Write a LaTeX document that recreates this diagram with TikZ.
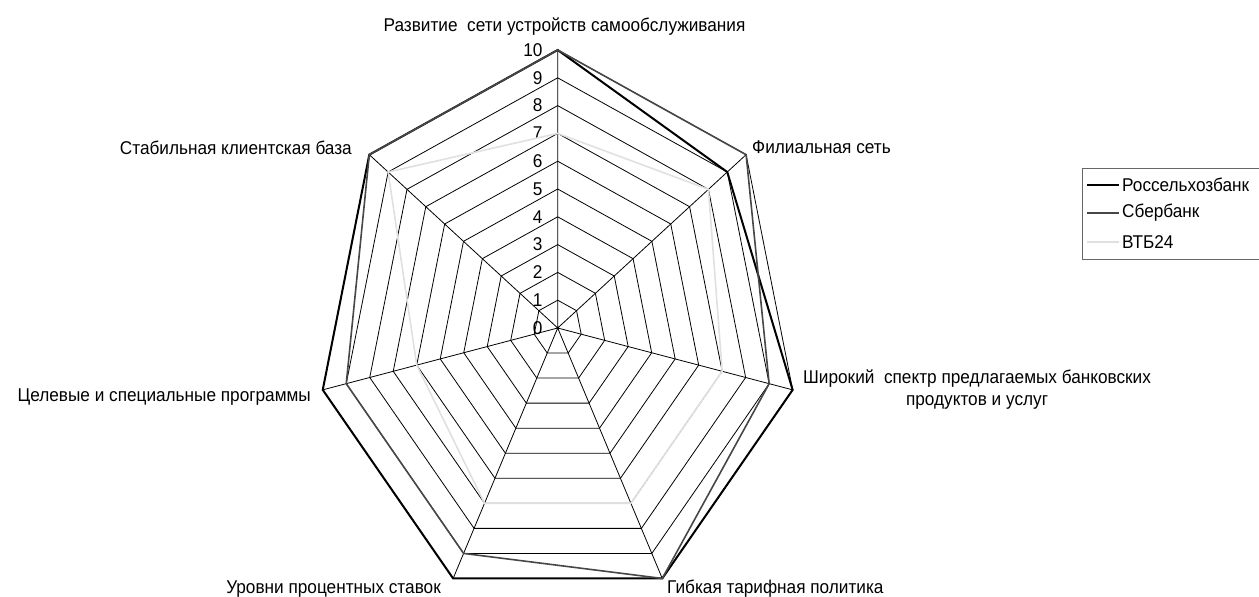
\documentclass[tikz,border=0pt]{standalone}
\usepackage{fontspec}
\setmainfont{Liberation Sans}[FakeStretch=0.93]
\newcommand{\chartfont}{\fontsize{18.5}{22}\selectfont}

\begin{document}
\begin{tikzpicture}[
    x=1pt, y=-1pt,
    grid/.style={draw=black, line width=0.8pt},
    lbl/.style={inner sep=0pt, font=\chartfont},
    tick/.style={inner sep=0pt, anchor=east, font=\chartfont},
    rshb/.style={draw=black, line width=2pt},
    sber/.style={draw=black!72, line width=1.6pt},
    vtb/.style={draw=black!12, line width=1.6pt}
]
\useasboundingbox (0,0) rectangle (1259,597);

\begin{scope}[shift={(557.7,328)}, x=24.1pt, y=27.8pt]
% rings
\draw[grid] (90:1) -- (38.571:1) -- (-12.857:1) -- (-64.286:1) -- (-115.714:1) -- (-167.143:1) -- (141.429:1) -- cycle;
\draw[grid] (90:2) -- (38.571:2) -- (-12.857:2) -- (-64.286:2) -- (-115.714:2) -- (-167.143:2) -- (141.429:2) -- cycle;
\draw[grid] (90:3) -- (38.571:3) -- (-12.857:3) -- (-64.286:3) -- (-115.714:3) -- (-167.143:3) -- (141.429:3) -- cycle;
\draw[grid] (90:4) -- (38.571:4) -- (-12.857:4) -- (-64.286:4) -- (-115.714:4) -- (-167.143:4) -- (141.429:4) -- cycle;
\draw[grid] (90:5) -- (38.571:5) -- (-12.857:5) -- (-64.286:5) -- (-115.714:5) -- (-167.143:5) -- (141.429:5) -- cycle;
\draw[grid] (90:6) -- (38.571:6) -- (-12.857:6) -- (-64.286:6) -- (-115.714:6) -- (-167.143:6) -- (141.429:6) -- cycle;
\draw[grid] (90:7) -- (38.571:7) -- (-12.857:7) -- (-64.286:7) -- (-115.714:7) -- (-167.143:7) -- (141.429:7) -- cycle;
\draw[grid] (90:8) -- (38.571:8) -- (-12.857:8) -- (-64.286:8) -- (-115.714:8) -- (-167.143:8) -- (141.429:8) -- cycle;
\draw[grid] (90:9) -- (38.571:9) -- (-12.857:9) -- (-64.286:9) -- (-115.714:9) -- (-167.143:9) -- (141.429:9) -- cycle;
\draw[grid] (90:10) -- (38.571:10) -- (-12.857:10) -- (-64.286:10) -- (-115.714:10) -- (-167.143:10) -- (141.429:10) -- cycle;

% spokes
\coordinate (C) at (0,0);
\draw[grid] (C) -- (90:10) (C) -- (38.571:10) (C) -- (-12.857:10) (C) -- (-64.286:10)
            (C) -- (-115.714:10) (C) -- (-167.143:10) (C) -- (141.429:10);

% scale values
\node[tick] (t0) at (-0.62,0) {0};
\node[tick] (t1) at (-0.62,1) {1};
\node[tick] (t2) at (-0.62,2) {2};
\node[tick] (t3) at (-0.62,3) {3};
\node[tick] (t4) at (-0.62,4) {4};
\node[tick] (t5) at (-0.62,5) {5};
\node[tick] (t6) at (-0.62,6) {6};
\node[tick] (t7) at (-0.62,7) {7};
\node[tick] (t8) at (-0.62,8) {8};
\node[tick] (t9) at (-0.62,9) {9};
\node[tick] (t10) at (-0.62,10) {10};

% series
\draw[rshb] (90:10) -- (38.571:9) -- (-12.857:10) -- (-64.286:10) -- (-115.714:10) -- (-167.143:10) -- (141.429:10) -- cycle;
\draw[sber] (90:10) -- (38.571:10) -- (-12.857:9) -- (-64.286:10) -- (-115.714:9) -- (-167.143:9) -- (141.429:10) -- cycle;
\draw[vtb] (90:7) -- (38.571:8) -- (-12.857:7) -- (-64.286:7) -- (-115.714:7) -- (-167.143:6) -- (141.429:9) -- cycle;
\end{scope}

% axis labels
\node[lbl, anchor=base] (ax1) at (564.5,31) {Развитие\ \ сети устройств самообслуживания};
\node[lbl, anchor=base west] (ax2) at (752,153) {Филиальная сеть};
\node[lbl, anchor=north west, align=center] (ax3) at (803,370) {Широкий\ \ спектр предлагаемых банковских\\продуктов и услуг};
\node[lbl, anchor=base west] (ax4) at (667,593) {Гибкая тарифная политика};
\node[lbl, anchor=base east] (ax5) at (441,593) {Уровни процентных ставок};
\node[lbl, anchor=base east] (ax6) at (311,401) {Целевые и специальные программы};
\node[lbl, anchor=base east] (ax7) at (352,154) {Стабильная клиентская база};

% legend
\coordinate (lgA) at (1259,168);
\coordinate (lgB) at (1082,168);
\coordinate (lgC) at (1082,259);
\coordinate (lgD) at (1259,259);
\draw[draw=black!60, line width=1pt] (lgA) -- (lgB) -- (lgC) -- (lgD);
\coordinate (l1a) at (1087,185); \coordinate (l1b) at (1119,185);
\coordinate (l2a) at (1087,213); \coordinate (l2b) at (1119,213);
\coordinate (l3a) at (1087,242); \coordinate (l3b) at (1119,242);
\draw[rshb] (l1a) -- (l1b);
\draw[sber] (l2a) -- (l2b);
\draw[vtb] (l3a) -- (l3b);
\node[lbl, anchor=west] (lg1) at (1122,185) {Россельхозбанк};
\node[lbl, anchor=west] (lg2) at (1122,213) {Сбербанк};
\node[lbl, anchor=west] (lg3) at (1122,242) {ВТБ24};
\end{tikzpicture}
\end{document}
